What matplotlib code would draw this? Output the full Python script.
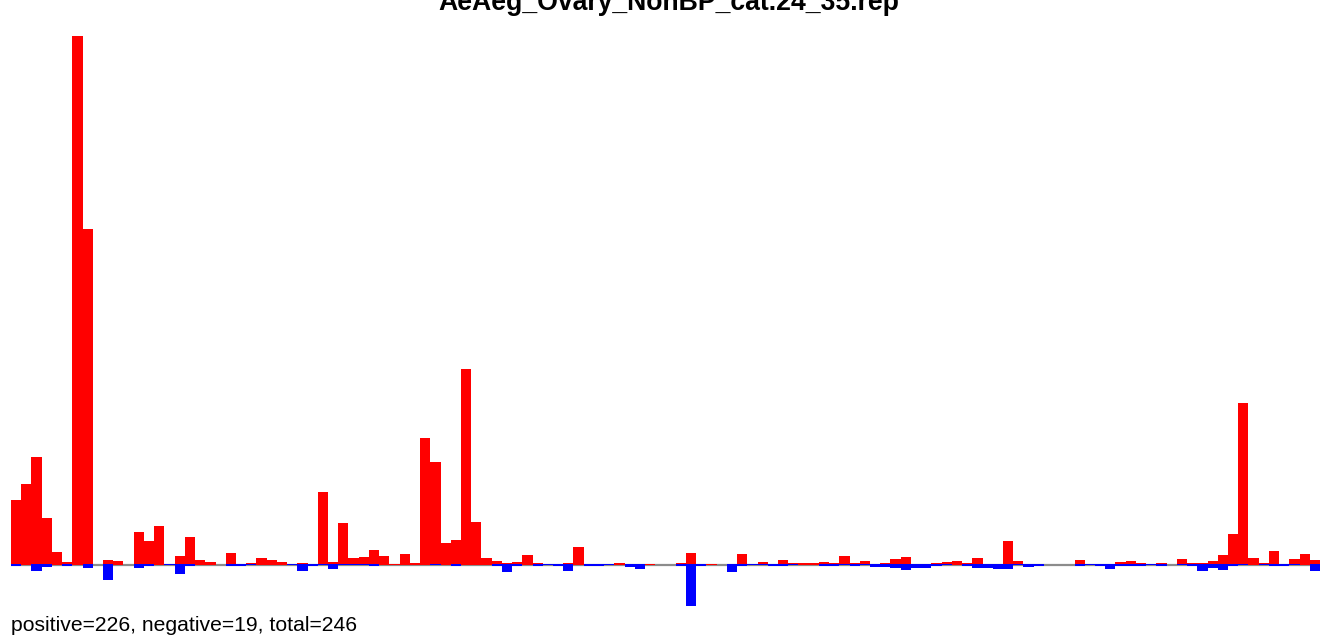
import matplotlib
matplotlib.use("Agg")
import matplotlib.pyplot as plt
import numpy as np

title = "AeAeg_Ovary_NonBP_cat.24_35.rep"
footer = "positive=226, negative=19, total=246"

# positive (red) values per position
pos_vals = [65, 81, 108, 47, 13, 3, 529, 336, 0, 5,
            4, 0, 33, 24, 39, 0, 9, 28, 5, 3,
            0, 12, 0, 2, 7, 5, 3, 0, 2, 0,
            73, 3, 42, 7, 8, 15, 9, 1, 11, 2,
            127, 103, 22, 25, 196, 43, 7, 4, 2, 3,
            10, 2, 0, 0, 2, 18, 1, 0, 0, 2,
            1, 0, 1, 0, 0, 2, 12, 0, 1, 0,
            1, 11, 0, 3, 0, 5, 2, 2, 2, 3,
            2, 9, 2, 4, 1, 2, 6, 8, 0, 1,
            2, 3, 4, 2, 7, 0, 0, 24, 4, 0,
            0, 0, 0, 0, 5, 0, 0, 0, 3, 4,
            2, 1, 2, 0, 6, 2, 2, 4, 10, 31,
            162, 7, 2, 14, 0, 6, 11, 5]

# negative (blue) magnitudes per position
neg_vals = [1, 0, 6, 2, 0, 1, 0, 3, 0, 15,
            0, 0, 3, 1, 0, 0.2, 9, 1, 0, 0,
            0, 1, 1, 0.2, 0, 0, 0, 0.2, 6, 1,
            0.2, 4, 0.2, 0.2, 0.2, 1, 0, 0, 0, 0,
            0, 0.2, 0, 1, 0, 0, 0, 1, 7, 1,
            0, 1, 0.2, 1, 6, 0, 1, 1, 0.2, 0,
            2, 4, 0, 0, 0, 1, 41, 1, 0, 0,
            7, 1, 0.2, 0.2, 1, 1, 0.2, 0, 0, 1,
            1, 0.2, 1, 0.2, 2, 2, 3, 5, 3, 3,
            1, 0.2, 0, 1, 3, 3, 4, 4, 0.2, 2,
            1, 0, 0, 0, 1, 0.2, 1, 4, 1, 1,
            1, 0.2, 1, 0, 0.2, 1, 6, 3, 5, 1,
            0.2, 0, 0.2, 1, 1, 0.2, 0, 6]

W, H = 1337, 639
fig = plt.figure(figsize=(W / 100, H / 100), dpi=100)
ax = fig.add_axes([11 / W, 0, 1309 / W, 1])
n = len(pos_vals)
x = np.arange(n)
ax.set_xlim(0, n)
ax.set_ylim(-74, 565)
ax.axis("off")

ax.axhline(0, color="#8c8c8c", lw=1.6, zorder=1)
pos = np.array(pos_vals, dtype=float)
neg = np.array(neg_vals, dtype=float)
ax.bar(x, pos, width=1, align="edge", color="#ff0000", linewidth=0, zorder=2)
mask = neg > 0
ax.bar(x[mask], -(neg[mask] + 1), bottom=1, width=1, align="edge",
       color="#0000ff", linewidth=0, zorder=3)

fig.text(0.5, 1 - 10 / H, title, ha="center", va="baseline",
         fontsize=19.2, fontweight="bold", family="Liberation Sans")
fig.text(11 / W, 1 - 631 / H, footer, ha="left", va="baseline",
         fontsize=15.2, family="Liberation Sans")

fig.savefig("out.png", dpi=100)
